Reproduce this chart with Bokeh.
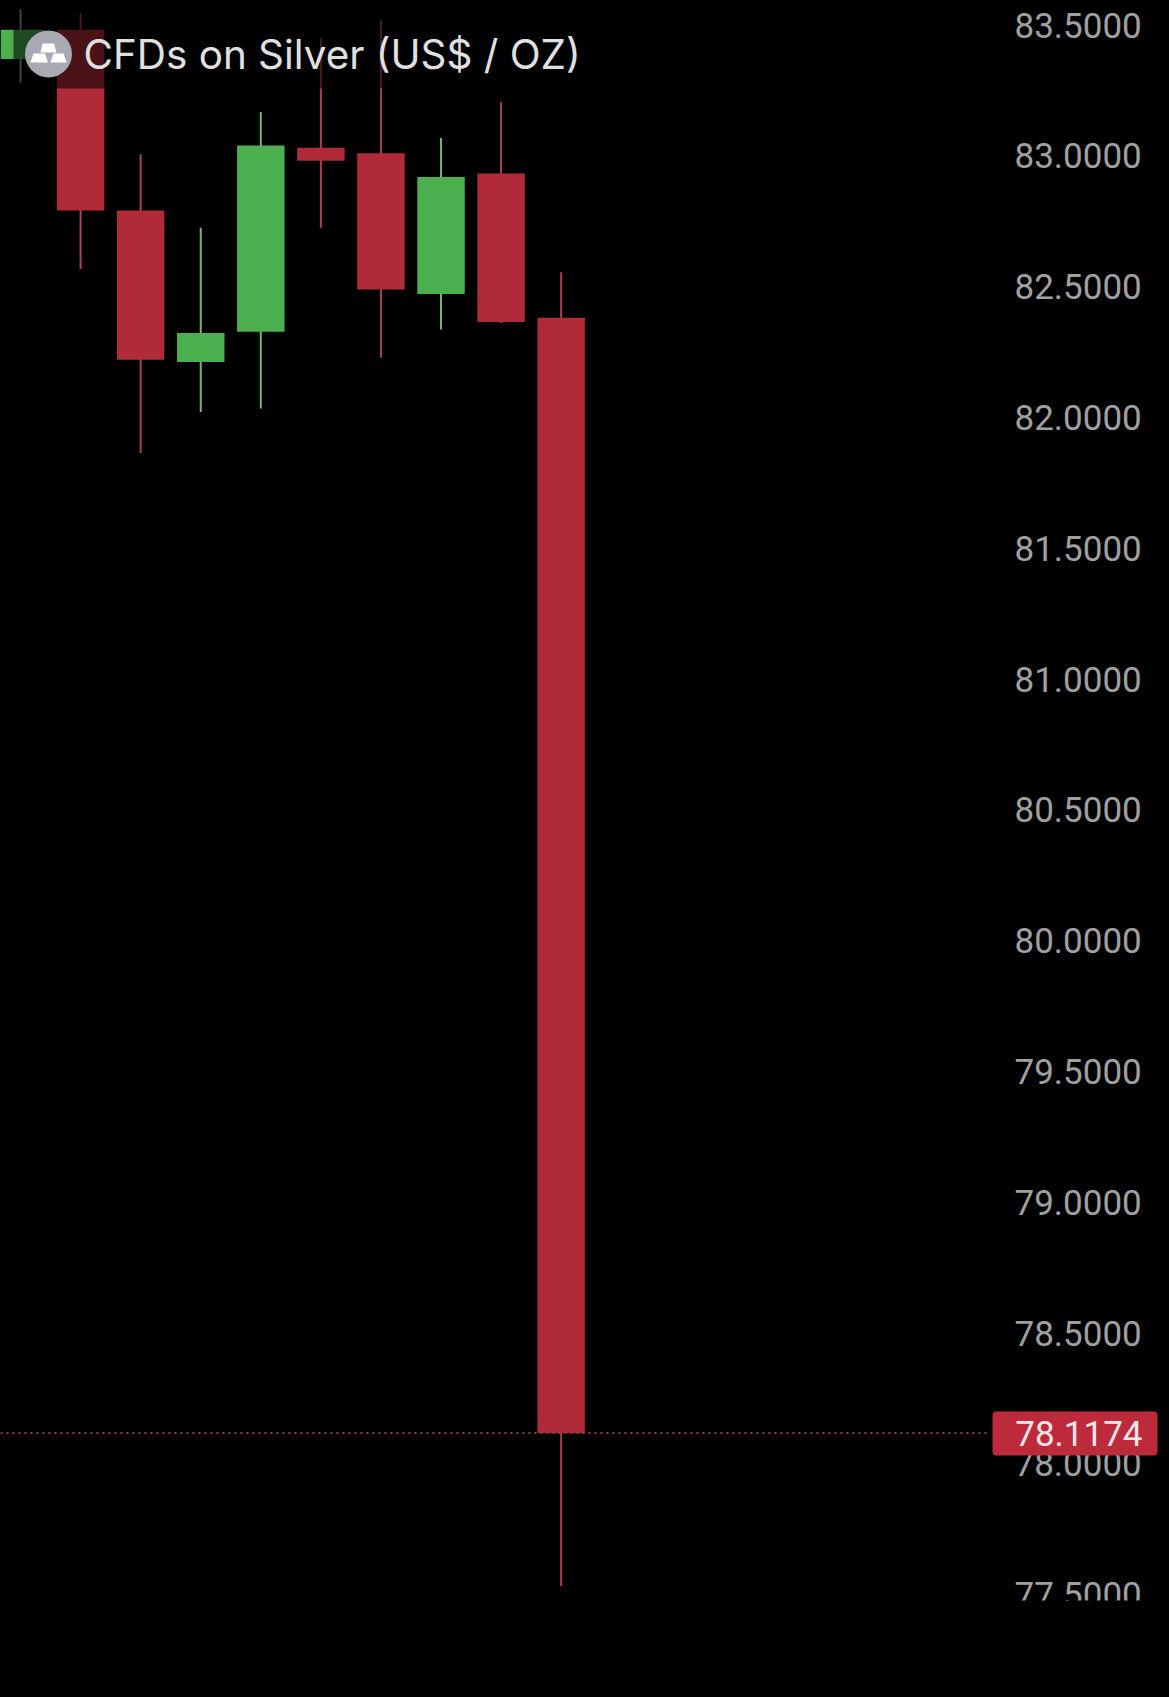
from bokeh.embed import file_html
from bokeh.resources import INLINE
from bokeh.plotting import figure
from bokeh.models import (BoxAnnotation, ColumnDataSource, FixedTicker, Label, LinearAxis,
                          PrintfTickFormatter, Range1d)

opens = [83.370, 83.482, 82.791, 82.212, 82.327, 83.031, 83.010, 82.472, 82.932, 82.381]
closes = [83.482, 82.791, 82.220, 82.323, 83.039, 82.981, 82.489, 82.919, 82.365, 78.1174]
highs = [83.560, 83.544, 83.006, 82.725, 83.167, 83.449, 83.519, 83.068, 83.205, 82.555]
lows = [83.279, 82.567, 81.864, 82.021, 82.034, 82.725, 82.228, 82.336, 82.361, 77.533]
tick_values = [77.5, 78.0, 78.5, 79.0, 79.5, 80.0, 80.5, 81.0, 81.5, 82.0, 82.5, 83.0, 83.5]
last_price = 78.1174
title = "CFDs on Silver (US$ / OZ)"

RED = "#b12a37"
GREEN = "#4db04f"
RED_WICK = "#a8434d"
GREEN_WICK = "#78b47a"
PX_PER_UNIT = 261.6
PX_PER_BAR = 60.07


# Page pixels <-> chart scale, used only for the decorations around the candles.
def xd(px):
    return 1 + (px - 80.1) / PX_PER_BAR


def yd(py):
    return 83.5 - (py - 24.5) / PX_PER_UNIT


p = figure(width=1169, height=1697, output_backend="svg", toolbar_location=None,
           x_range=Range1d(xd(0), xd(1169)), y_range=Range1d(yd(1697), yd(0)),
           background_fill_color="#000000", border_fill_color="#000000",
           min_border_left=0, min_border_top=0, min_border_right=0, min_border_bottom=0,
           x_axis_location=None, y_axis_location=None)
p.outline_line_color = None
p.grid.visible = False

axis = LinearAxis(ticker=FixedTicker(ticks=tick_values),
                  formatter=PrintfTickFormatter(format="%.4f"),
                  fixed_location=xd(987))
axis.axis_line_color = None
axis.major_tick_line_color = None
axis.minor_tick_line_color = None
axis.major_label_standoff = 21
axis.major_label_text_color = "#a0a0a0"
axis.major_label_text_font = "Roboto"
axis.major_label_text_font_size = "35px"
axis.major_label_text_font_style = "normal"
p.add_layout(axis, "right")

xs = list(range(len(opens)))
colors = [GREEN if c >= o else RED for o, c in zip(opens, closes)]
wick_colors = [GREEN_WICK if c >= o else RED_WICK for o, c in zip(opens, closes)]
src = ColumnDataSource(dict(x=xs, open=opens, close=closes, high=highs, low=lows,
                            color=colors, wick=wick_colors))

p.segment("x", "high", "x", "low", source=src, line_color="wick", line_width=2)
p.vbar("x", 0.79, "open", "close", source=src, fill_color="color", line_color=None)

p.segment([xd(0)], [last_price], [xd(987)], [last_price], line_color="#c4525a",
          line_width=1.5, line_dash="2 4", level="underlay")

# Semi-transparent strip behind the instrument title.
p.quad(left=[xd(13)], right=[xd(585)], top=[yd(8)], bottom=[yd(88)],
       fill_color="#000000", fill_alpha=0.58, line_color=None)

p.scatter([xd(48)], [yd(53.5)], size=47, marker="circle", fill_color="#a9a9b4", line_color=None)
p.patches(
    [[xd(42), xd(53.5), xd(56), xd(40)],
     [xd(33), xd(44.5), xd(47.5), xd(30)],
     [xd(53), xd(63), xd(66), xd(50)]],
    [[yd(43), yd(43), yd(52), yd(52)],
     [yd(53), yd(53), yd(62), yd(62)],
     [yd(53), yd(53), yd(62), yd(62)]],
    fill_color="#ffffff", line_color=None)

p.add_layout(Label(x=xd(83), y=yd(54), text=title, text_color="#e0e0e0", text_font="Inter",
                   text_font_size="40.4px", text_baseline="middle", text_align="left"))

# Cuts the lowest tick label off where the price pane ends.
p.add_layout(BoxAnnotation(left=xd(0), right=xd(1169), top=yd(1600), bottom=yd(1697),
                           fill_color="#000000", fill_alpha=1, line_color=None))

# Last-price tag.
p.add_layout(BoxAnnotation(left=xd(992), right=xd(1157), top=yd(1411), bottom=yd(1455),
                           fill_color="#bd2a3b", fill_alpha=1,
                           line_color=None, border_radius=4))
p.add_layout(Label(x=xd(1142), y=last_price, text=f"{last_price:.4f}",
                   text_color="#f4e6e8", text_font="Roboto", text_font_size="35px",
                   text_baseline="middle", text_align="right"))

page_style = "<style>html,body{background:#000000;}</style>"
open("out.html", "w").write(file_html(p, INLINE).replace("</head>", page_style + "</head>", 1))
